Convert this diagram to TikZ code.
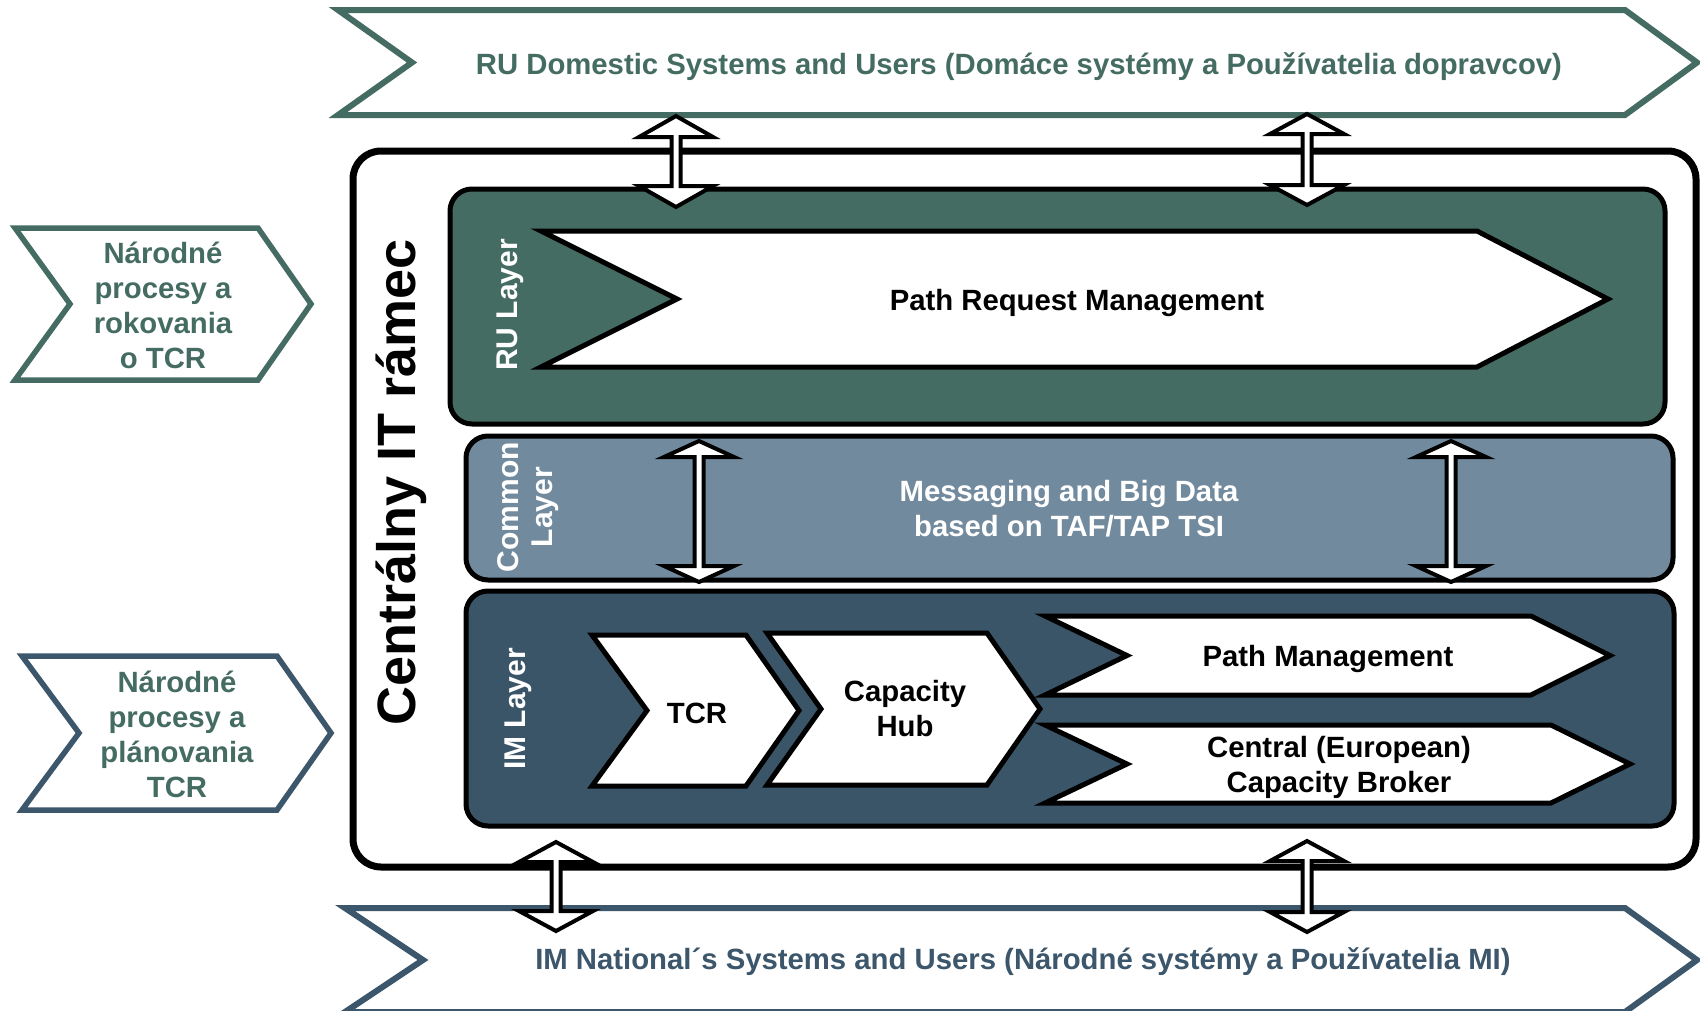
\documentclass[tikz,border=0pt]{standalone}
\usepackage{fontspec}
\setmainfont{Liberation Sans}
\definecolor{rugreen}{HTML}{456C62}
\definecolor{comgray}{HTML}{728A9E}
\definecolor{imblue}{HTML}{3B5568}
\definecolor{slateb}{HTML}{3C566B}
% chevron: #1 style, #2 left, #3 notch, #4 body right, #5 tip, #6 top, #7 bottom
\newcommand\mychev[7]{\draw[#1] (#2,#6) -- (#4,#6) -- (#5,{(#6+#7)/2}) -- (#4,#7) -- (#2,#7) -- (#3,{(#6+#7)/2}) -- cycle;}
% double block arrow: #1 cx, #2 top, #3 bottom, #4 head length, #5 head half width
\newcommand\dblarr[5]{\draw[arrowbox] (#1,#2) -- ({#1+#5},{#2+#4}) -- ({#1+4.5},{#2+#4}) -- ({#1+4.5},{#3-#4}) -- ({#1+#5},{#3-#4}) -- (#1,#3) -- ({#1-#5},{#3-#4}) -- ({#1-4.5},{#3-#4}) -- ({#1-4.5},{#2+#4}) -- ({#1-#5},{#2+#4}) -- cycle;}
\tikzset{
  banner/.style={draw=#1, fill=white, line width=6pt},
  sidechev/.style={draw=#1, fill=white, line width=5.5pt},
  inchev/.style={draw=black, fill=white, line width=5pt},
  layerbox/.style={draw=black, fill=#1, line width=5pt, rounded corners=22pt},
  arrowbox/.style={draw=black, fill=white, line width=4pt},
  txt/.style={font=\fontsize{29.3}{35}\selectfont\bfseries, inner sep=0pt, align=center},
  intxt/.style={font=\fontsize{29.3}{35}\selectfont\bfseries, inner sep=0pt, align=center},
  laytxt/.style={font=\fontsize{30}{35}\selectfont\bfseries, inner sep=0pt, text=white, rotate=90, anchor=base},
}
\begin{document}
\begin{tikzpicture}[x=1pt,y=-1pt,line join=miter]
\useasboundingbox (0,0) rectangle (1700,1010);
% top and bottom banners
\mychev{banner=rugreen}{338}{412}{1625}{1697}{10}{115}
\node[txt, text=rugreen] (rudom) at (1019,67) {RU Domestic Systems and Users (Domáce systémy a Používatelia dopravcov)};
\mychev{banner=slateb}{345}{423}{1625}{1697}{908}{1012}
\node[txt, text=slateb] (imnat) at (1023,962) {IM National´s Systems and Users (Národné systémy a Používatelia MI)};
% side chevrons
\mychev{sidechev=rugreen}{15}{70}{258}{311}{228}{380}
\node[txt, text=rugreen] (narrok) at (163,305) {Národné\\procesy a\\rokovania\\o TCR};
\mychev{sidechev=slateb}{22}{79}{277}{331}{656}{810}
\node[txt, text=rugreen] (narplan) at (177,734) {Národné\\procesy a\\plánovania\\TCR};
% outer frame
\draw[black, line width=7pt, rounded corners=28pt] (353,151) rectangle (1696,867);
\node[font=\fontsize{54}{60}\selectfont\bfseries, rotate=90, anchor=base, inner sep=0pt] (frame) at (415,482) {Centrálny IT rámec};
% layers
\draw[layerbox=rugreen] (450,189) rectangle (1665,424);
\draw[layerbox=comgray] (466,436) rectangle (1673,580);
\draw[layerbox=imblue] (466,591) rectangle (1674,826);
\node[laytxt] (rulay) at (517,305) {RU Layer};
\node[laytxt] (comlayA) at (518,507) {Common};
\node[laytxt] (comlayB) at (552,507) {Layer};
\node[laytxt] (imlay) at (525,709) {IM Layer};
% RU layer content
\mychev{inchev}{541}{677}{1477}{1608}{231}{367}
\node[intxt] (prm) at (1077,303) {Path Request Management};
% common layer content
\node[intxt, text=white] (msg) at (1069,509) {Messaging and Big Data\\based on TAF/TAP TSI};
% IM layer content
\mychev{inchev}{592}{647}{746}{799}{635}{786}
\node[intxt] (tcr) at (697,713) {TCR};
\mychev{inchev}{767}{821}{987}{1040}{633}{785}
\node[intxt] (caphub) at (905,709) {Capacity\\Hub};
\mychev{inchev}{1045}{1127}{1531}{1610}{616}{695}
\node[intxt] (pathm) at (1328,659) {Path Management};
\mychev{inchev}{1045}{1127}{1551}{1630}{725}{803}
\node[intxt] (ccb) at (1339,767) {Central (European)\\Capacity Broker};
% arrows
\dblarr{676}{116}{207}{21}{37}
\dblarr{1307}{114}{205}{20}{37}
\dblarr{699}{441}{582}{16}{35}
\dblarr{1451}{441}{582}{16}{35}
\dblarr{556}{842}{931}{20}{37}
\dblarr{1307}{841}{932}{20}{37}
\end{tikzpicture}
\end{document}
